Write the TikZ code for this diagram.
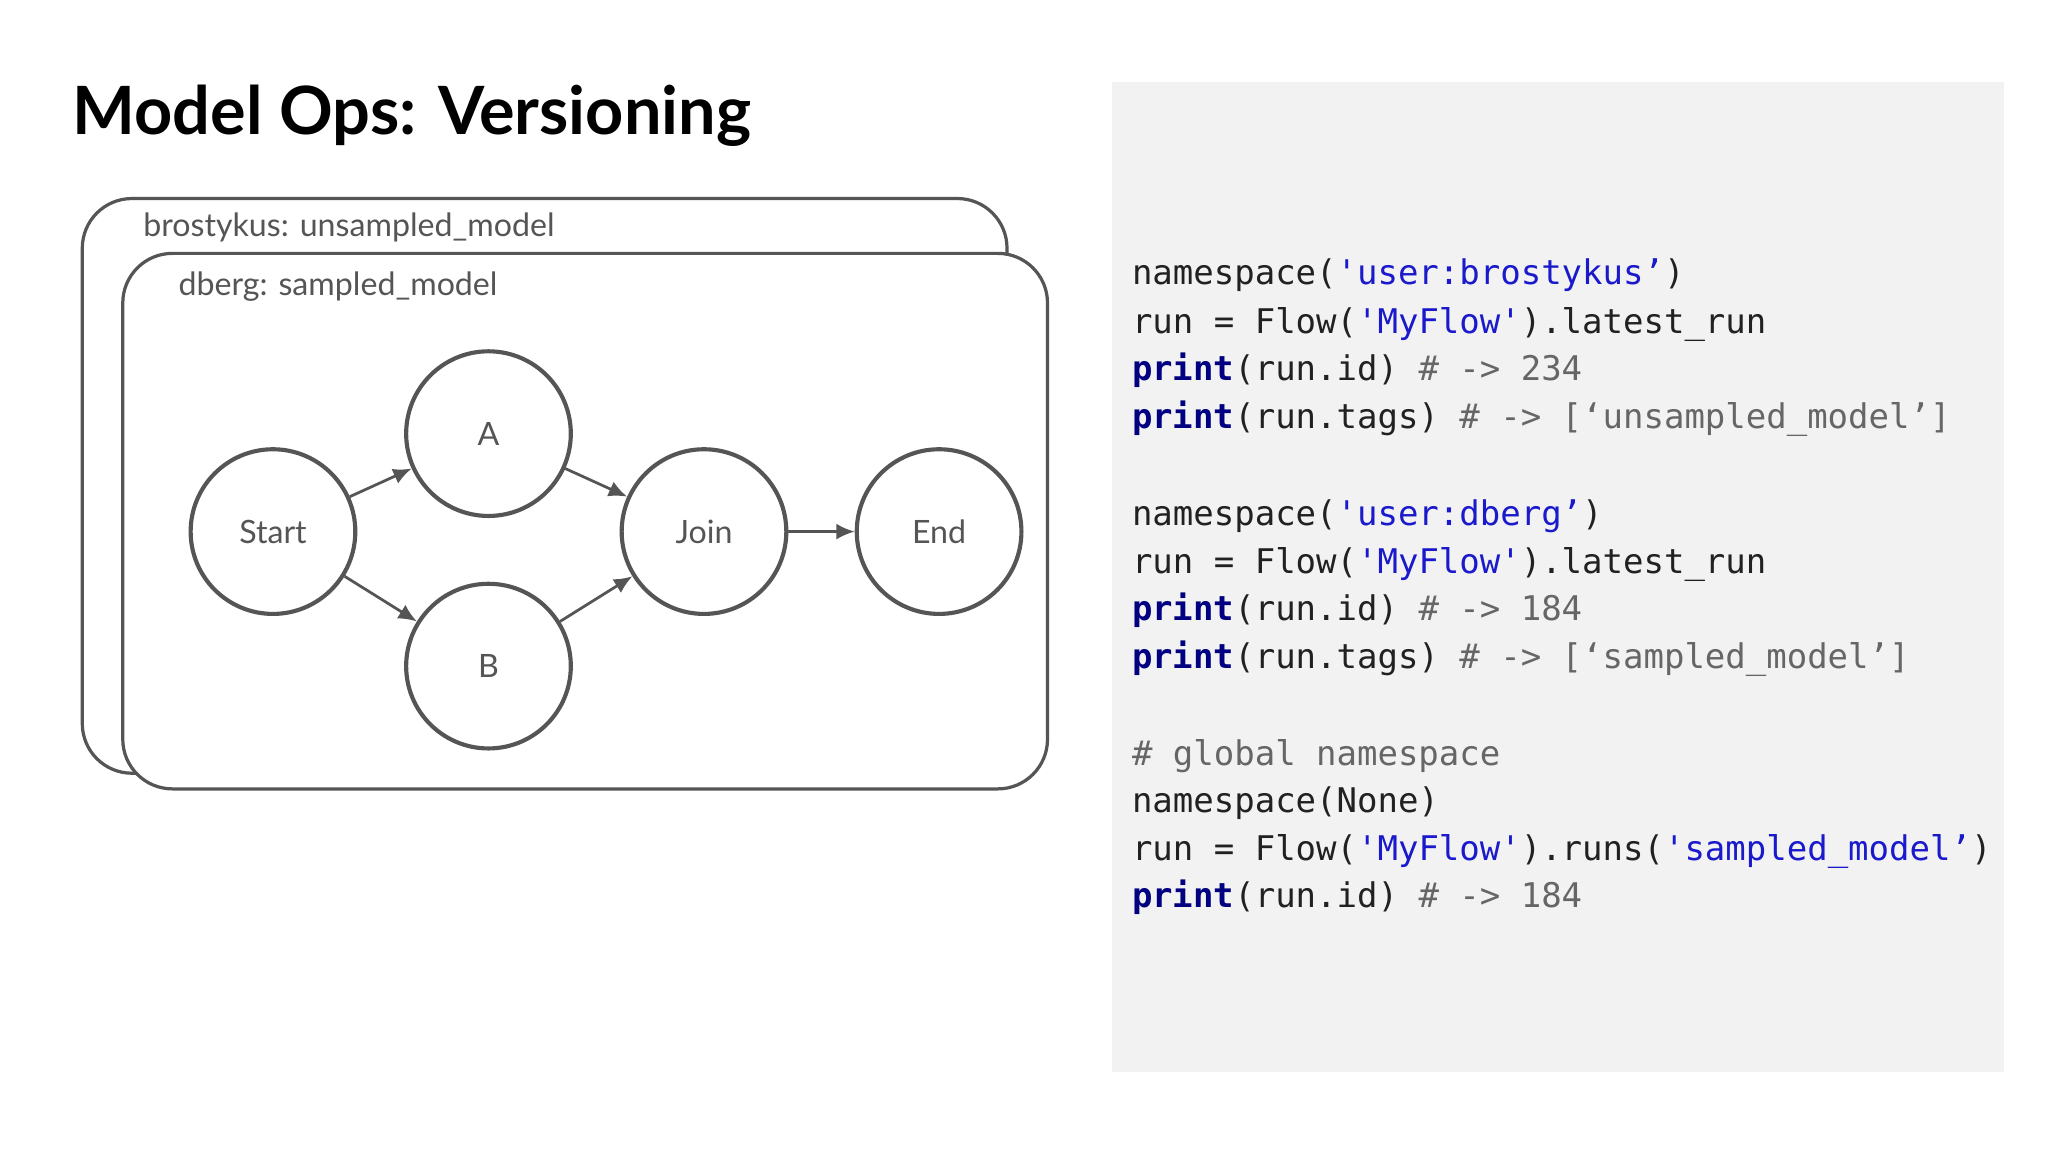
\documentclass[tikz,border=0pt]{standalone}
\usepackage{fontspec}
\setmainfont{Lato}
\newfontfamily\mono{DejaVu Sans Mono}
\usetikzlibrary{arrows.meta}
\definecolor{ln}{HTML}{555555}
\definecolor{pan}{HTML}{F2F2F2}
\definecolor{str}{HTML}{1A1ACC}
\definecolor{kw}{HTML}{000080}
\definecolor{cm}{HTML}{666666}
\begin{document}
\begin{tikzpicture}[x=0.01cm,y=-0.01cm,
  nd/.style={circle,draw=ln,line width=0.9pt,minimum size=1.26cm,inner sep=0pt,font=\fontsize{7pt}{8pt}\selectfont,text=ln},
  ar/.style={draw=ln,line width=0.6pt,-{Latex[length=4pt,width=3.5pt]}},
  box/.style={draw=ln,line width=0.7pt,rounded corners=0.38cm,fill=white},
  lab/.style={anchor=base west,font=\fontsize{7pt}{8pt}\selectfont,text=ln,inner sep=0pt},
  code/.style={anchor=base west,inner sep=0pt,font=\mono\fontsize{7.4pt}{9pt}\selectfont,text=black!87}]
\useasboundingbox (0,0) rectangle (1568,882);
\fill[white] (0,0) rectangle (1568,882);
\node[anchor=base west,inner sep=0pt,font=\fontsize{14.5pt}{16pt}\selectfont\bfseries] (title) at (55,103) {Model Ops: Versioning};
\fill[pan] (851,63) rectangle (1534,821);
\draw[box] (63,152) rectangle (771,592);
\node[lab] (l1) at (109,181) {brostykus: unsampled\_model};
\draw[box] (94,194) rectangle (802,604);
\node[lab] (l2) at (136,226) {dberg: sampled\_model};
\node[nd] (S) at (209,407) {Start};
\node[nd] (A) at (374,332) {A};
\node[nd] (B) at (374,510) {B};
\node[nd] (J) at (539,407) {Join};
\node[nd] (E) at (719,407) {End};
\draw[ar] (S) -- (A);
\draw[ar] (S) -- (B);
\draw[ar] (A) -- (J);
\draw[ar] (B) -- (J);
\draw[ar] (J) -- (E);
\node[code] (c1) at (866,218) {namespace(\textcolor{str}{'user:brostykus’})};
\node[code] (c2) at (866,255) {run = Flow(\textcolor{str}{'MyFlow'}).latest\_run};
\node[code] (c3) at (866,291) {\textcolor{kw}{\bfseries print}(run.id) \textcolor{cm}{\# -> 234}};
\node[code] (c4) at (866,328) {\textcolor{kw}{\bfseries print}(run.tags) \textcolor{cm}{\# -> [‘unsampled\_model’]}};
\node[code] (c5) at (866,402) {namespace(\textcolor{str}{'user:dberg’})};
\node[code] (c6) at (866,439) {run = Flow(\textcolor{str}{'MyFlow'}).latest\_run};
\node[code] (c7) at (866,475) {\textcolor{kw}{\bfseries print}(run.id) \textcolor{cm}{\# -> 184}};
\node[code] (c8) at (866,512) {\textcolor{kw}{\bfseries print}(run.tags) \textcolor{cm}{\# -> [‘sampled\_model’]}};
\node[code] (c9) at (866,586) {\textcolor{cm}{\# global namespace}};
\node[code] (c10) at (866,622) {namespace(None)};
\node[code] (c11) at (866,659) {run = Flow(\textcolor{str}{'MyFlow'}).runs(\textcolor{str}{'sampled\_model’})};
\node[code] (c12) at (866,695) {\textcolor{kw}{\bfseries print}(run.id) \textcolor{cm}{\# -> 184}};
\end{tikzpicture}
\end{document}
